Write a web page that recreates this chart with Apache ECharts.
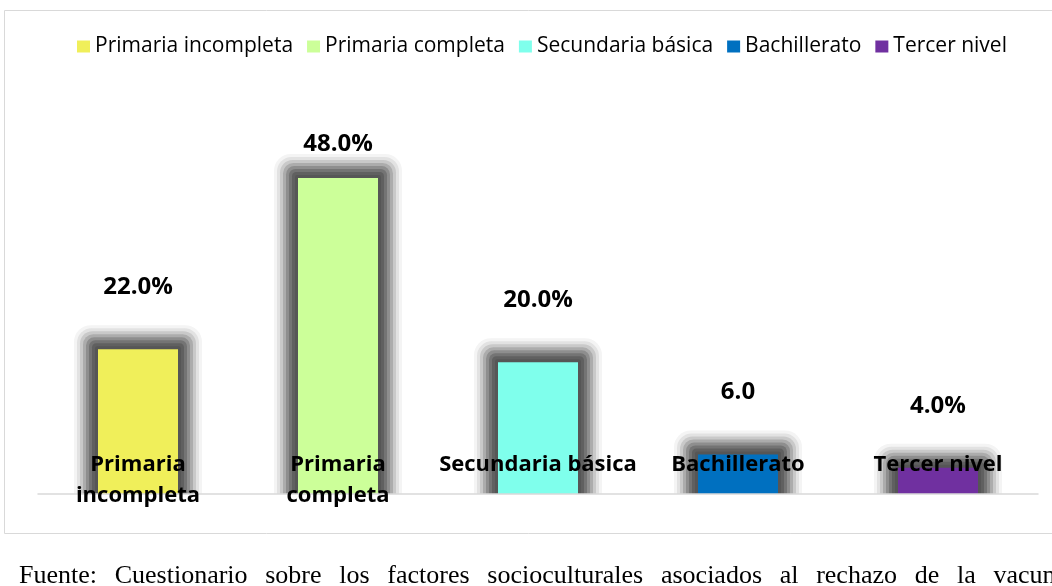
<!DOCTYPE html>
<html>
<head>
<meta charset="utf-8">
<script src="https://cdn.jsdelivr.net/npm/echarts@6/dist/echarts.min.js"></script>
<style>
  html, body { margin: 0; padding: 0; background: #fff; overflow: hidden; }
  #chart { position: absolute; left: 0; top: 0; width: 1052px; height: 586px; }
  #fuente {
    position: absolute; left: 19px; top: 562px; width: 1048px;
    font-family: "Liberation Serif", serif; font-size: 26px; line-height: 26px; color: #000;
    white-space: nowrap; text-align: justify; text-align-last: justify;
  }
</style>
</head>
<body>
<div id="chart"></div>
<div id="fuente">Fuente: Cuestionario sobre los factores socioculturales asociados al rechazo de la vacuna</div>
<script>
// datos
const categories = ['Primaria incompleta', 'Primaria completa', 'Secundaria básica', 'Bachillerato', 'Tercer nivel'];
const tickLabels = ['Primaria\nincompleta', 'Primaria\ncompleta', 'Secundaria básica', 'Bachillerato', 'Tercer nivel'];
const values = [22.0, 48.0, 20.0, 6.0, 4.0];
const units = ['%', '%', '%', '', '%'];
const colors = ['#F0EF5A', '#CCFF99', '#7FFFEC', '#0070C0', '#7030A0'];

// capas del resplandor (de fuera hacia dentro)
const glowPads = [24, 21, 18, 15, 12, 9, 6, 3];
const glowColors = ['#f4f4f4', '#e2e2e2', '#c9c9c9', '#acacac', '#8e8e8e', '#747474', '#606060', '#565656'];

const chart = echarts.init(document.getElementById('chart'));

// barras de color, una serie por nivel (para la leyenda)
const series = categories.map((name, i) => ({
  name: name,
  type: 'bar',
  stack: 'all',
  barWidth: 80,
  z: 3,
  data: values.map((v, j) => (j === i ? v : '-')),
  itemStyle: { color: colors[i] },
  label: {
    show: true,
    position: 'top',
    distance: i === 1 ? 22 : 50,
    fontFamily: 'Open Sans',
    fontWeight: 'bold',
    fontSize: 24,
    color: '#000',
    formatter: p => p.value.toFixed(1) + units[i]
  }
}));

// resplandor gris detras de cada barra
series.unshift({
  name: 'glow',
  type: 'custom',
  z: 2,
  silent: true,
  data: values.map((v, i) => [i, v]),
  renderItem: (params, api) => {
    const top = api.coord([api.value(0), api.value(1)]);
    const base = api.coord([api.value(0), 0]);
    const w = api.size([1, 0])[0] * 0.4;
    return {
      type: 'group',
      children: glowPads.map((pad, k) => ({
        type: 'rect',
        shape: {
          x: top[0] - w / 2 - pad, y: top[1] - pad,
          width: w + 2 * pad, height: base[1] - top[1] + pad,
          r: [pad * 0.7, pad * 0.7, 0, 0]
        },
        style: { fill: glowColors[k] }
      }))
    };
  }
});

const option = {
  animation: false,
  color: colors,
  legend: {
    top: 36,
    left: 77,
    padding: 0,
    itemWidth: 13,
    itemHeight: 12,
    itemGap: 14,
    icon: 'rect',
    textStyle: { fontFamily: 'Open Sans', fontSize: 21, color: '#000' },
    data: categories
  },
  grid: { left: 38, right: 14, top: 99, bottom: 92 },
  xAxis: {
    type: 'category',
    data: tickLabels,
    z: 10,
    axisLine: { lineStyle: { color: '#d9d9d9', width: 1.5 } },
    axisTick: { show: false },
    axisLabel: {
      interval: 0,
      margin: -45,
      verticalAlign: 'top',
      lineHeight: 31,
      fontFamily: 'Open Sans',
      fontWeight: 'bold',
      fontSize: 22,
      color: '#000'
    }
  },
  yAxis: { type: 'value', min: 0, max: 60, show: false },
  graphic: [
    {
      type: 'rect', z: 5, silent: true,
      shape: { x: 5, y: 495, width: 1047, height: 37 },
      style: { fill: '#fff' }
    },
    {
      type: 'rect', z: 20, silent: true,
      shape: { x: 4.5, y: 10.5, width: 1100, height: 523 },
      style: { fill: 'none', stroke: '#d9d9d9', lineWidth: 1 }
    }
  ],
  series: series
};

chart.setOption(option);
</script>
</body>
</html>
